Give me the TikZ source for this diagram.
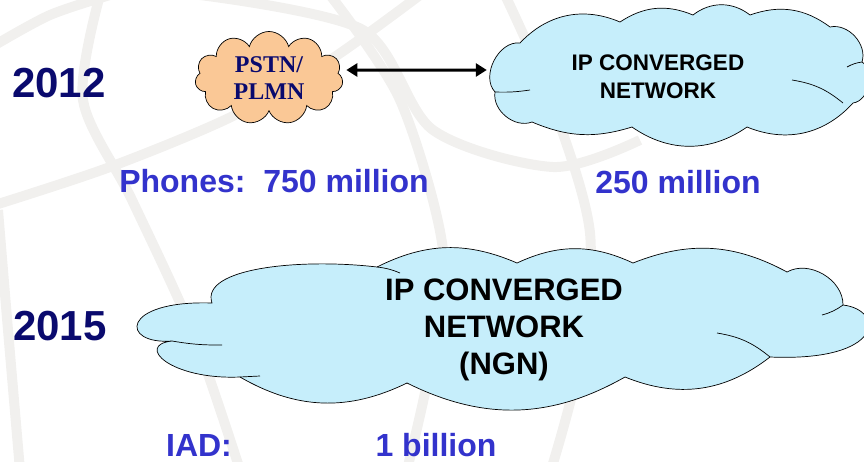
\documentclass[tikz,border=0pt]{standalone}
\usepackage{fontspec}
\setmainfont{Liberation Sans}
\newfontfamily\timesfont{Liberation Serif}
\usetikzlibrary{shapes.symbols,arrows.meta}
\definecolor{navy}{RGB}{10,10,110}
\definecolor{phoneblue}{RGB}{51,51,204}
\definecolor{peach}{RGB}{250,200,150}
\definecolor{skyblue}{RGB}{198,238,251}
\definecolor{globegray}{RGB}{241,240,238}

\begin{document}
\begin{tikzpicture}[x=1pt, y=-1pt,
        year/.style={inner sep=0, anchor=base, text=navy, font=\fontsize{42}{46}\selectfont\bfseries},
        count/.style={inner sep=0, anchor=base, text=phoneblue, font=\fontsize{32}{36}\selectfont\bfseries},
        puff/.style={draw=black, line width=0.7pt, fill=skyblue},
        fold/.style={draw=black, line width=0.7pt},
        area/.style={inner sep=0},
        link/.style={{Triangle[length=11pt,width=13pt]}-{Triangle[length=11pt,width=13pt]}, line width=3pt}]
    \useasboundingbox (0,0) rectangle (864,461);

    % globe watermark
    \begin{scope}[draw=globegray, line width=10pt]
        \draw plot[smooth] coordinates {(-5,45) (50,15) (110,-5)};
        \draw plot[smooth] coordinates {(-2,210) (8,330) (20,470)};
        \draw plot[smooth] coordinates {(100,-5) (83,100) (132,200) (193,333) (240,470)};
        \draw plot[smooth] coordinates {(505,-5) (551,100) (590,233) (578,367) (551,470)};
        \draw plot[smooth] coordinates {(-5,205) (110,167) (231,117) (330,60) (420,-5)};
        \draw plot[smooth] coordinates {(330,-5) (400,100) (443,250) (430,367) (407,470)};
        \draw plot[smooth] coordinates {(200,-5) (363,30) (433,130) (553,167) (640,140)};
    \end{scope}

    % areas
    \node[area, minimum width=376, minimum height=133] (ipnet) at (675,78) {};
    \node[area, minimum width=728, minimum height=157] (ngn) at (505,328) {};

    % clouds
    \node[cloud, cloud puffs=11, cloud ignores aspect, draw=black, line width=0.7pt, fill=peach,
          minimum width=148, minimum height=93, inner sep=0, align=center,
          text=navy, font=\timesfont\fontsize{24}{27}\selectfont\bfseries]
        (pstn) at (269,78) {PSTN/\\PLMN};
    \draw[puff] (520,43) to[bend left=35] (620,22) to[bend left=28] (693,15)
        to[bend left=38] (750,15) to[bend left=28] (830,27) to[bend left=60] (862,62)
        to[bend left=70] (853,103) to[bend left=35] (747,127) to[bend left=35] (632,127)
        to[bend left=20] (532,122) to[bend left=60] (495,92)
        to[bend left=70] (520,43) -- cycle;
    \draw[puff] (212,303) .. controls (200,268) and (300,258) .. (377,267)
        to[bend left=25] (517,263) to[bend left=25] (633,263) to[bend left=25] (787,272)
        to[bend left=60] (843,305) .. controls (885,310) and (885,362) .. (770,357)
        to[bend left=30] (625,377) to[bend left=28] (407,383) to[bend left=28] (240,377)
        .. controls (170,380) and (135,345) .. (172,341)
        .. controls (120,345) and (120,300) .. (212,303) -- cycle;

    % folds
    \draw[fold] (377,267) to[bend left=8] (400,273);
    \draw[fold] (172,341) to[bend right=5] (222,345);
    \draw[fold] (240,377) -- (260,376);
    \draw[fold] (717,333) to[bend left=15] (770,357);
    \draw[fold] (822,315) to[bend right=10] (843,305);
    \draw[fold] (495,92) to[bend right=5] (530,90);
    \draw[fold] (792,80) to[bend left=15] (843,103);
    \draw[fold] (847,67) to[bend left=10] (862,62);

    % texts
    \node[area, align=center, font=\fontsize{22.5}{28}\selectfont\bfseries]
        (iptext) at (658,77) {IP CONVERGED\\NETWORK};
    \node[area, align=center, font=\fontsize{31}{37}\selectfont\bfseries]
        (ngntext) at (504,330) {IP CONVERGED\\NETWORK\\(NGN)};

    % link
    \draw[link] ([shift={(4,-8)}]pstn.east) -- ([shift={(0,-8)}]ipnet.west);

    % labels
    \node[year] (y2012) at (59,97) {2012};
    \node[year] (y2015) at (60,340) {2015};
    \node[count] (phones) at (274,192) {Phones:\ \ 750 million};
    \node[count] (ipphones) at (678,193) {250 million};
    \node[count] (iad) at (199,456) {IAD:};
    \node[count] (iadnum) at (436,456) {1 billion};
\end{tikzpicture}
\end{document}
